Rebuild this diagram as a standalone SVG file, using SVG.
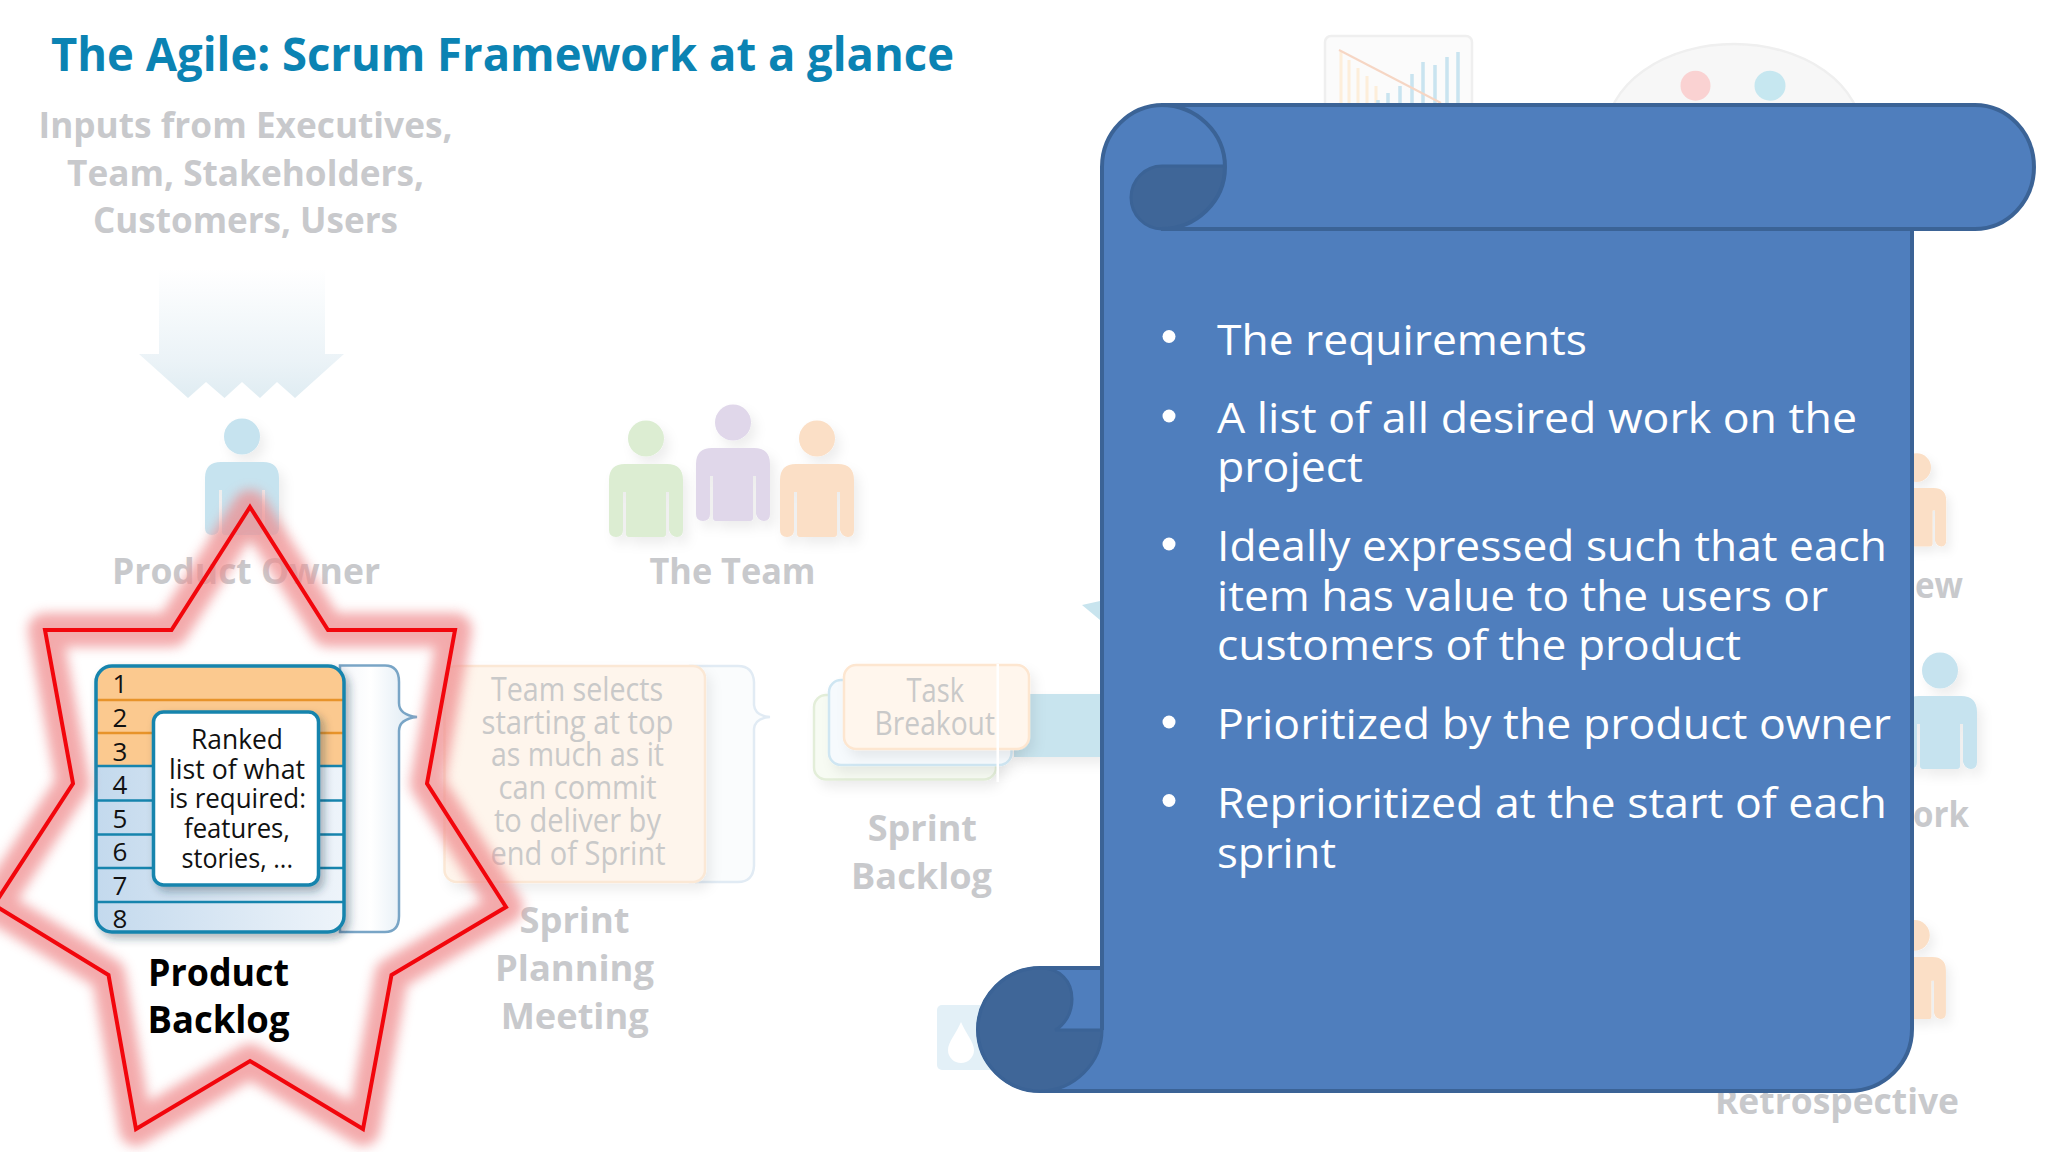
<svg xmlns="http://www.w3.org/2000/svg" width="2048" height="1152" viewBox="0 0 2048 1152">
<style>
text{font-family:"Open Sans","Noto Sans","Liberation Sans",sans-serif}
.title{font-size:47px;font-weight:700;fill:#0b83b3}
.lab{font-size:36px;font-weight:700;fill:#c8c9cc}
.faint{font-size:32px;fill:#c9c9c9}
.num{font-size:26px;fill:#111}
.small{font-size:27px;fill:#111}
.pb{font-size:38px;font-weight:700;fill:#000}
.body{font-size:42px;fill:#fff}
.sc{fill:#4f7ebd;stroke:#3b6396;stroke-width:4}
.dk{fill:#3f6698;stroke:#3b6396;stroke-width:3}
.bl{fill:#fff}
.rl{stroke:#1684ad;stroke-width:2.5;fill:none}
.ro{stroke:#e7932c;stroke-width:2.5;fill:none}
</style>
<defs>
<filter id="glow" x="-20%" y="-20%" width="140%" height="140%"><feGaussianBlur stdDeviation="6"/></filter>
<filter id="sh" x="-30%" y="-30%" width="170%" height="170%"><feDropShadow dx="5" dy="7" stdDeviation="6" flood-color="#000" flood-opacity=".07"/></filter>
<filter id="sh2" x="-30%" y="-30%" width="170%" height="170%"><feDropShadow dx="4" dy="5" stdDeviation="4" flood-color="#234" flood-opacity=".35"/></filter>
<linearGradient id="arw" x1="0" y1="0" x2="0" y2="1"><stop offset="0" stop-color="#e8f1f6" stop-opacity="0"/><stop offset=".7" stop-color="#e8f1f6" stop-opacity=".85"/><stop offset="1" stop-color="#dfecf2"/></linearGradient>
<linearGradient id="blueRows" x1="0" y1="0" x2="1" y2="0"><stop offset="0" stop-color="#c3d9ed"/><stop offset="1" stop-color="#eef4fa"/></linearGradient>
<linearGradient id="panel" x1="0" y1="0" x2="1" y2="0"><stop offset="0" stop-color="#f3f6fa"/><stop offset=".4" stop-color="#fff"/><stop offset="1" stop-color="#dbe8f2"/></linearGradient>
<g id="person"><circle cx="37" cy="-25.5" r="18"/><path d="M16 0H58Q74 0 74 16V66Q74 73 68 73T60 66V28H57V70Q57 73 54 73H20Q17 73 17 70V28H14V66Q14 73 7 73T0 66V16Q0 0 16 0Z"/></g>
</defs>
<rect width="2048" height="1152" fill="#fff"/>

<g id="connectors">
<path d="M159 268H325V354H344L295 398L277 382L260 398L242 382L224.500 398L206 382L188 398L139 354H159Z" fill="url(#arw)"/>
<rect x="1014" y="694" width="90" height="63" fill="#c8e4ee" filter="url(#sh)"/>
<path d="M1100 601L1082 605L1100 620Z" fill="#c8e4ee"/>
</g>

<text class="title" x="51" y="71" textLength="903" lengthAdjust="spacingAndGlyphs">The Agile: Scrum Framework at a glance</text>

<g id="inputs">
<text class="lab" x="38.500" y="138" textLength="414" lengthAdjust="spacingAndGlyphs">Inputs from Executives,</text>
<text class="lab" x="67" y="185.500" textLength="357" lengthAdjust="spacingAndGlyphs">Team, Stakeholders,</text>
<text class="lab" x="93" y="233" textLength="305" lengthAdjust="spacingAndGlyphs">Customers, Users</text>
</g>

<g id="product-owner">
<use href="#person" x="205" y="462" fill="#c6e3ef" filter="url(#sh)"/>
<text class="lab" x="112" y="584" textLength="268" lengthAdjust="spacingAndGlyphs">Product Owner</text>
</g>

<g id="the-team">
<use href="#person" x="609" y="464" fill="#dcedd2" filter="url(#sh)"/>
<use href="#person" x="696" y="448" fill="#e0d7ea" filter="url(#sh)"/>
<use href="#person" x="780" y="464" fill="#fbdfc6" filter="url(#sh)"/>
<text class="lab" x="649.500" y="583.500" textLength="166" lengthAdjust="spacingAndGlyphs">The Team</text>
</g>

<g id="sprint-planning">
<path d="M690 666H738Q753 666 754 682V705Q755 716 770 717Q755 718 754 729V866Q753 882 738 882H690Z" fill="#fafcfd" stroke="#e1ebf4" stroke-width="2.500"/>
<rect x="444.500" y="666" width="260.500" height="216" rx="12" fill="#fef5ec" stroke="#fbe8d5" stroke-width="2.500" filter="url(#sh)"/>
<text class="faint" x="491" y="701" textLength="172" lengthAdjust="spacingAndGlyphs">Team selects</text>
<text class="faint" x="481.500" y="733.600" textLength="192" lengthAdjust="spacingAndGlyphs">starting at top</text>
<text class="faint" x="491" y="766" textLength="173" lengthAdjust="spacingAndGlyphs">as much as it</text>
<text class="faint" x="498.500" y="799" textLength="158" lengthAdjust="spacingAndGlyphs">can commit</text>
<text class="faint" x="494" y="832" textLength="167" lengthAdjust="spacingAndGlyphs">to deliver by</text>
<text class="faint" x="490.500" y="864.600" textLength="175" lengthAdjust="spacingAndGlyphs">end of Sprint</text>
<text class="lab" x="519.500" y="933" textLength="110" lengthAdjust="spacingAndGlyphs">Sprint</text>
<text class="lab" x="495" y="981" textLength="159" lengthAdjust="spacingAndGlyphs">Planning</text>
<text class="lab" x="500.700" y="1029" textLength="148" lengthAdjust="spacingAndGlyphs">Meeting</text>
</g>

<g id="sprint-backlog">
<rect x="814" y="695" width="182" height="84.500" rx="12" fill="#f7fbf3" stroke="#e3eed9" stroke-width="2.500" filter="url(#sh)"/>
<rect x="829" y="680" width="182.500" height="85" rx="12" fill="#f6fafd" stroke="#cfe6f2" stroke-width="2.500" filter="url(#sh)"/>
<rect x="844" y="665" width="185" height="84" rx="12" fill="#fff6ed" stroke="#fde6d0" stroke-width="2.500" filter="url(#sh)"/>
<text class="faint" x="906.600" y="702" textLength="57.400" lengthAdjust="spacingAndGlyphs">Task</text>
<text class="faint" x="874.500" y="734.700" textLength="120.500" lengthAdjust="spacingAndGlyphs">Breakout</text>
<rect x="996.500" y="664" width="2.500" height="118" fill="#fff"/>
<text class="lab" x="867.700" y="841" textLength="109.300" lengthAdjust="spacingAndGlyphs">Sprint</text>
<text class="lab" x="851" y="889" textLength="141" lengthAdjust="spacingAndGlyphs">Backlog</text>
</g>

<g id="chart">
<rect x="1325" y="36" width="147" height="80" rx="6" fill="#fbfbfb" stroke="#efefef" stroke-width="2.500"/>
<path d="M1341 52V110M1349 60V110M1358 68V110M1367 76V110M1376 86V110" stroke="#fdeeda" stroke-width="3" fill="none"/>
<path d="M1378 100V110M1388 93V110M1400 86V110M1412 74V110M1423 62V110M1435 65V110M1447 57V110M1458 52V110" stroke="#c9e4f0" stroke-width="3.500" fill="none"/>
<path d="M1339 50L1441 103" stroke="#f6d6c4" stroke-width="2" fill="none"/>
</g>

<g id="daily-scrum">
<ellipse cx="1734" cy="135" rx="128" ry="91" fill="#f7f7f7" stroke="#efefef" stroke-width="2.500"/>
<ellipse cx="1695.500" cy="85.700" rx="15" ry="15" fill="#fad2d2"/>
<ellipse cx="1770" cy="85.700" rx="15.500" ry="15" fill="#c6e7f0"/>
</g>

<g id="drop">
<rect x="937" y="1005" width="70" height="65" rx="5" fill="#e3f0f7"/>
<path d="M961 1022C966 1034 974 1042 974 1050A13 13 0 0 1 948 1050C948 1042 956 1034 961 1022Z" fill="#fff"/>
</g>

<g id="right-side">
<use href="#person" transform="translate(1887 488) scale(.8)" fill="#fbdfc6" filter="url(#sh)"/>
<use href="#person" x="1903" y="696" fill="#c6e3ef" filter="url(#sh)"/>
<use href="#person" transform="translate(1883 957) scale(.85)" fill="#fbdfc6" filter="url(#sh)"/>
<text class="lab" x="1915" y="598" textLength="48" lengthAdjust="spacingAndGlyphs">ew</text>
<text class="lab" x="1913" y="826.500" textLength="56" lengthAdjust="spacingAndGlyphs">ork</text>
<text class="lab" x="1715" y="1114" textLength="244" lengthAdjust="spacingAndGlyphs">Retrospective</text>
</g>

<g id="product-backlog">
<path d="M340 665.600H385Q399 665.600 399 682V703Q399 715 417 717Q399 719 399 731V916Q399 932 385 932H340Z" fill="url(#panel)" stroke="#79a5c6" stroke-width="2.500"/>
<g filter="url(#sh2)">
<rect x="96" y="666" width="248" height="266" rx="16" fill="url(#blueRows)"/>
<path d="M96 766V682Q96 666 112 666H328Q344 666 344 682V766Z" fill="#fbc98f"/>
<path class="ro" d="M96 700H344M96 733H344"/>
<path class="rl" d="M96 766H344M96 800.600H344M96 834.500H344M96 868H344M96 902H344"/>
<rect x="96" y="666" width="248" height="266" rx="16" fill="none" stroke="#1684ad" stroke-width="3.500"/>
</g>
<text class="num" x="120" y="693" text-anchor="middle">1</text>
<text class="num" x="120" y="727" text-anchor="middle">2</text>
<text class="num" x="120" y="760.500" text-anchor="middle">3</text>
<text class="num" x="120" y="794" text-anchor="middle">4</text>
<text class="num" x="120" y="827.500" text-anchor="middle">5</text>
<text class="num" x="120" y="861" text-anchor="middle">6</text>
<text class="num" x="120" y="894.500" text-anchor="middle">7</text>
<text class="num" x="120" y="928" text-anchor="middle">8</text>
<rect x="153.500" y="712" width="165" height="173" rx="10" fill="#fff" stroke="#1684ad" stroke-width="3.500" filter="url(#sh2)"/>
<text class="small" x="191" y="749" textLength="92" lengthAdjust="spacingAndGlyphs">Ranked</text>
<text class="small" x="169" y="779" textLength="136" lengthAdjust="spacingAndGlyphs">list of what</text>
<text class="small" x="169" y="808" textLength="137" lengthAdjust="spacingAndGlyphs">is required:</text>
<text class="small" x="184" y="838" textLength="106" lengthAdjust="spacingAndGlyphs">features,</text>
<text class="small" x="181.500" y="867.500" textLength="111.500" lengthAdjust="spacingAndGlyphs">stories, ...</text>
<text class="pb" x="148" y="985.500" textLength="141" lengthAdjust="spacingAndGlyphs">Product</text>
<text class="pb" x="147.500" y="1032.500" textLength="142" lengthAdjust="spacingAndGlyphs">Backlog</text>
</g>

<g id="star">
<polygon points="250,507 328,630 455,630 427,783.500 506,907 391.500,975 363,1129 250,1061 136,1129 108.500,975 -6,905 73,783.500 45,630 171.500,630" fill="none" stroke="#ef8a8c" stroke-width="34" stroke-linejoin="round" opacity=".72" filter="url(#glow)"/>
<polygon points="250,507 328,630 455,630 427,783.500 506,907 391.500,975 363,1129 250,1061 136,1129 108.500,975 -6,905 73,783.500 45,630 171.500,630" fill="none" stroke="#f2060c" stroke-width="4"/>
</g>

<g id="scroll">
<path class="sc" d="M1102 1030V167A61 62 0 0 1 1163 105H1912V1029A63 62 0 0 1 1849 1091H1040C1006 1091 978 1063 978 1029.500C978 996 1006 968 1040 968H1102"/>
<path class="dk" d="M1225 166H1162C1145 166 1131 180 1131 197.500C1131 215 1145 229 1162 229H1225Z"/>
<path class="sc" d="M1161 105H1975A59 62 0 0 1 1975 229H1161A64 62 0 0 0 1161 105Z"/>
<path class="dk" d="M1040 968C1060 968 1072 981 1072 999C1072 1015 1063 1026 1055 1030H1102C1102 1063 1074 1091 1040 1091C1006 1091 978 1063 978 1029.500C978 996 1006 968 1040 968Z"/>
<path d="M1102 966V1030" stroke="#3b6396" stroke-width="4" fill="none"/>
<g id="scroll-text">
<circle class="bl" cx="1169" cy="336.500" r="6.500"/>
<text class="body" x="1217" y="354.500" textLength="370" lengthAdjust="spacingAndGlyphs">The requirements</text>
<circle class="bl" cx="1169" cy="416" r="6.500"/>
<text class="body" x="1217" y="433" textLength="640" lengthAdjust="spacingAndGlyphs">A list of all desired work on the</text>
<text class="body" x="1217" y="482" textLength="146" lengthAdjust="spacingAndGlyphs">project</text>
<circle class="bl" cx="1169" cy="544" r="6.500"/>
<text class="body" x="1217" y="561" textLength="670" lengthAdjust="spacingAndGlyphs">Ideally expressed such that each</text>
<text class="body" x="1217" y="610.500" textLength="611" lengthAdjust="spacingAndGlyphs">item has value to the users or</text>
<text class="body" x="1217" y="660" textLength="524" lengthAdjust="spacingAndGlyphs">customers of the product</text>
<circle class="bl" cx="1169" cy="722" r="6.500"/>
<text class="body" x="1217" y="738.500" textLength="674" lengthAdjust="spacingAndGlyphs">Prioritized by the product owner</text>
<circle class="bl" cx="1169" cy="800.500" r="6.500"/>
<text class="body" x="1217" y="818" textLength="670" lengthAdjust="spacingAndGlyphs">Reprioritized at the start of each</text>
<text class="body" x="1217" y="867.500" textLength="119" lengthAdjust="spacingAndGlyphs">sprint</text>
</g>
</g>
</svg>
